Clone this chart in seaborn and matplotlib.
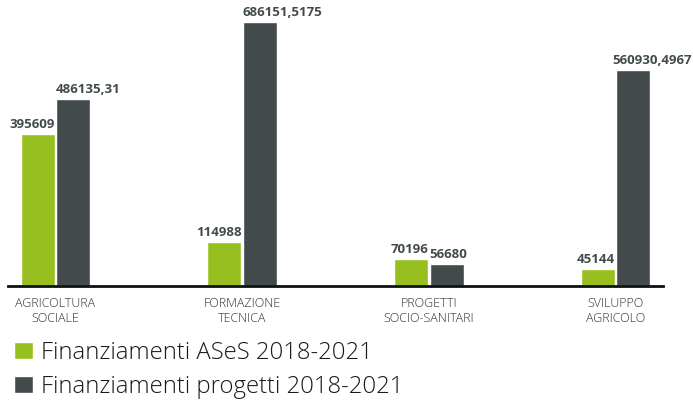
import matplotlib
matplotlib.use("Agg")
import matplotlib.pyplot as plt
import seaborn as sns
import pandas as pd

# Data
categorie = ["AGRICOLTURA\nSOCIALE", "FORMAZIONE\nTECNICA",
             "PROGETTI\nSOCIO-SANITARI", "SVILUPPO\nAGRICOLO"]
serie = ["Finanziamenti ASeS 2018-2021", "Finanziamenti progetti 2018-2021"]
ases = [395609, 114988, 70196, 45144]
progetti = [486135.31, 686151.5175, 56680, 560930.4967]

colori = ["#97bf1f", "#434a4b"]

sns.set_theme(style="white")
plt.rcParams['font.family'] = ['Open Sans', 'DejaVu Sans']

df = pd.DataFrame({
    "categoria": categorie * 2,
    "serie": [serie[0]] * 4 + [serie[1]] * 4,
    "valore": ases + progetti,
})


def fmt(v):
    s = repr(float(v))
    if s.endswith(".0"):
        s = s[:-2]
    return s.replace(".", ",")


W, H, DPI = 693, 407, 100
fig = plt.figure(figsize=(W / DPI, H / DPI), dpi=DPI)
ax = fig.add_axes([8 / W, (H - 286) / H, 655 / W, 286 / H])

sns.barplot(data=df, x="categoria", y="valore", hue="serie", palette=colori,
            saturation=1, width=0.38, gap=0.04, ax=ax, legend=True)

ax.set_ylim(0, max(progetti) * 286 / 264)
ax.set_xlim(-0.254, 3.254)
ax.set_xlabel("")
ax.set_ylabel("")
ax.set_yticks([])
for s in ["top", "right", "left"]:
    ax.spines[s].set_visible(False)
ax.spines["bottom"].set_color("#111111")
ax.spines["bottom"].set_linewidth(2)
ax.tick_params(axis="x", length=0, pad=8)
for lab in ax.get_xticklabels():
    lab.set_family("Open Sans")
    lab.set_weight(300)
    lab.set_fontsize(9)
    lab.set_color("#333333")
    lab.set_linespacing(1.15)

# value labels: green right-aligned to the bar, dark left-aligned
testi = []
for i, cont in enumerate(ax.containers):
    for bar, v in zip(cont, [ases, progetti][i]):
        if i == 0:
            x, ha = bar.get_x() + bar.get_width(), "right"
        else:
            x, ha = bar.get_x(), "left"
        t = ax.annotate(fmt(v), (x, bar.get_height()), xytext=(0, 2),
                        textcoords="offset points", ha=ha, va="bottom",
                        fontsize=9.5, fontweight="bold", color="#434a4b",
                        family="Open Sans")
        testi.append(t)

fig.canvas.draw()
for t in testi:
    bb = t.get_window_extent()
    if bb.x1 > W - 1:
        t.xyann = (-(bb.x1 - (W - 1)) * 72 / DPI, 2)

handles, labels = ax.get_legend_handles_labels()
ax.get_legend().remove()
leg = fig.legend(handles, labels, loc="upper left", bbox_to_anchor=(14 / W, 1 - 341 / H),
                 frameon=False,
                 prop={"family": "Open Sans", "weight": 300, "size": 17.2},
                 handlelength=0.8, handleheight=0.72, handletextpad=0.33,
                 labelspacing=0.42, borderaxespad=0, borderpad=0, labelcolor="#1a1a1a")

fig.savefig("out.png", dpi=DPI)
